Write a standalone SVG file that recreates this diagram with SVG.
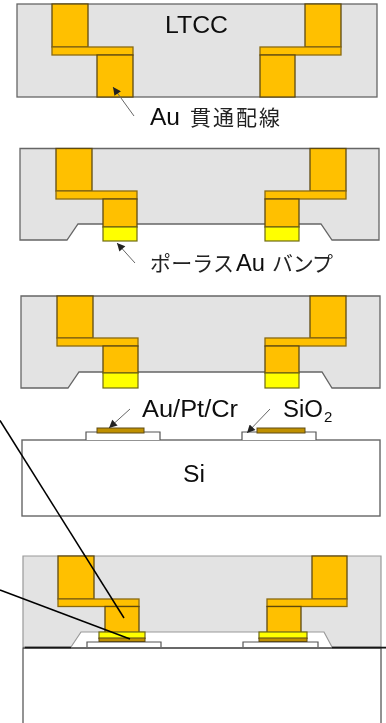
<svg xmlns="http://www.w3.org/2000/svg" width="386" height="723" viewBox="0 0 386 723">
<defs>
<marker id="ah" viewBox="0 0 10 10" refX="10" refY="5" markerWidth="10" markerHeight="8" markerUnits="userSpaceOnUse" orient="auto"><path d="M0 0L10 5L0 10Z" fill="#222"/></marker>
<filter id="soft" x="-2%" y="-2%" width="104%" height="104%"><feGaussianBlur stdDeviation="0.35"/></filter>
</defs>
<style>
.body{fill:#e3e3e3;stroke:#666;stroke-width:1.3}
.body4{fill:#e3e3e3;stroke:#999;stroke-width:1.2}
.au{fill:#ffc000;stroke:#5f4a10;stroke-width:1.3}
.bar{fill:#ffc000;stroke:#8a6a10;stroke-width:1.3}
.bump{fill:#ffff00;stroke:#6f6a10;stroke-width:1.2}
.pad{fill:#bf9000;stroke:#5f4a10;stroke-width:1}
.ox{fill:#fff;stroke:#555;stroke-width:1.2}
.si{fill:#fff;stroke:#666;stroke-width:1.4}
.lead{fill:none;stroke:#666;stroke-width:1;marker-end:url(#ah)}
.long{fill:none;stroke:#000;stroke-width:1.5}
text{font-family:"Liberation Sans","Noto Sans CJK JP",sans-serif;fill:#111}
.t{font-size:23px}
.j{font-size:21px;font-family:"Noto Sans CJK JP",sans-serif;fill:#222}
</style>
<rect width="386" height="723" fill="#fff"/>
<g filter="url(#soft)">
<g id="panel1">
<rect class="body" x="17" y="4" width="360" height="93"/>
<rect class="au" x="52" y="4" width="36" height="43"/>
<rect class="bar" x="52" y="47" width="81" height="8"/>
<rect class="au" x="97" y="55" width="36" height="42"/>
<rect class="au" x="305" y="4" width="36" height="43"/>
<rect class="bar" x="260" y="47" width="81" height="8"/>
<rect class="au" x="260" y="55" width="35" height="42"/>
<text class="t" x="165" y="33" textLength="63" lengthAdjust="spacingAndGlyphs">LTCC</text>
<text class="t" x="150" y="125" textLength="30" lengthAdjust="spacingAndGlyphs">Au</text>
<text class="j" x="190" y="125" textLength="90">貫通配線</text>
</g>
<g id="panel2">
<path class="body" d="M20 148.500H379V240H332L321 224H78L67 240H20Z"/>
<rect class="au" x="56" y="148.500" width="36" height="42.500"/>
<rect class="bar" x="56" y="191" width="81" height="8"/>
<rect class="au" x="103" y="199" width="34" height="28"/>
<rect class="bump" x="103" y="227" width="34" height="14"/>
<rect class="au" x="310" y="148.500" width="36" height="42.500"/>
<rect class="bar" x="265" y="191" width="81" height="8"/>
<rect class="au" x="265" y="199" width="34" height="28"/>
<rect class="bump" x="265" y="227" width="34" height="14"/>
<text class="j" x="150" y="271" textLength="84">ポーラス</text>
<text class="t" x="236" y="271" textLength="29" lengthAdjust="spacingAndGlyphs">Au</text>
<text class="j" x="272" y="271" textLength="61">バンプ</text>
</g>
<g id="panel3">
<path class="body" d="M21 296H380V388H332L322 372H79L68 388H21Z"/>
<rect class="au" x="57" y="296" width="36" height="42"/>
<rect class="bar" x="57" y="338" width="81" height="8"/>
<rect class="au" x="103" y="346" width="35" height="27"/>
<rect class="bump" x="103" y="373" width="35" height="15"/>
<rect class="au" x="310" y="296" width="36" height="42"/>
<rect class="bar" x="265" y="338" width="81" height="8"/>
<rect class="au" x="265" y="346" width="34" height="27"/>
<rect class="bump" x="265" y="373" width="34" height="15"/>
</g>
<g id="substrate">
<rect class="si" x="22" y="440" width="358" height="76"/>
<path class="ox" d="M86 440V432H160V440"/>
<path class="ox" d="M242 440V432H316V440"/>
<rect class="pad" x="97" y="428" width="47" height="5"/>
<rect class="pad" x="257" y="428" width="48" height="5"/>
<text class="t" x="142" y="417" textLength="96" lengthAdjust="spacingAndGlyphs">Au/Pt/Cr</text>
<text class="t" x="283" y="417" textLength="40" lengthAdjust="spacingAndGlyphs">SiO</text>
<text x="324" y="422" font-size="15">2</text>
<text class="t" x="183" y="482" textLength="22" lengthAdjust="spacingAndGlyphs">Si</text>
</g>
<g id="panel4">
<rect class="si" x="23" y="648" width="358" height="80"/>
<path class="body4" d="M23 556H381V647H332L324 632H81L71 647H23Z"/>
<path d="M25 647.500H71M332 647.500H386" stroke="#000" stroke-width="1.3"/>
<path d="M23 648H386" stroke="#333" stroke-width="0.9"/>
<path class="ox" d="M87 647V642H161V647"/>
<path class="ox" d="M243 647V642H318V647"/>
<rect class="au" x="58" y="556" width="36" height="43"/>
<rect class="bar" x="58" y="599" width="81" height="7.500"/>
<rect class="au" x="105" y="606.500" width="34" height="26"/>
<rect class="bump" x="99" y="632" width="46" height="6.500"/>
<rect class="pad" x="99" y="638" width="46" height="3.500"/>
<rect class="au" x="312" y="556" width="35" height="43"/>
<rect class="bar" x="267" y="599" width="80" height="7.500"/>
<rect class="au" x="267" y="606.500" width="34" height="26"/>
<rect class="bump" x="259" y="632" width="48" height="6.500"/>
<rect class="pad" x="259" y="638" width="48" height="3.500"/>
</g>
<g id="connectors">
<path class="lead" d="M134 116L113 87"/>
<path class="lead" d="M135 263L117 243"/>
<path class="lead" d="M130 409L109 428"/>
<path class="lead" d="M270 409L247 433"/>
<path class="long" d="M0 420.500L124 618"/>
<path class="long" d="M0 590L130 639"/>
</g>
</g>
</svg>
